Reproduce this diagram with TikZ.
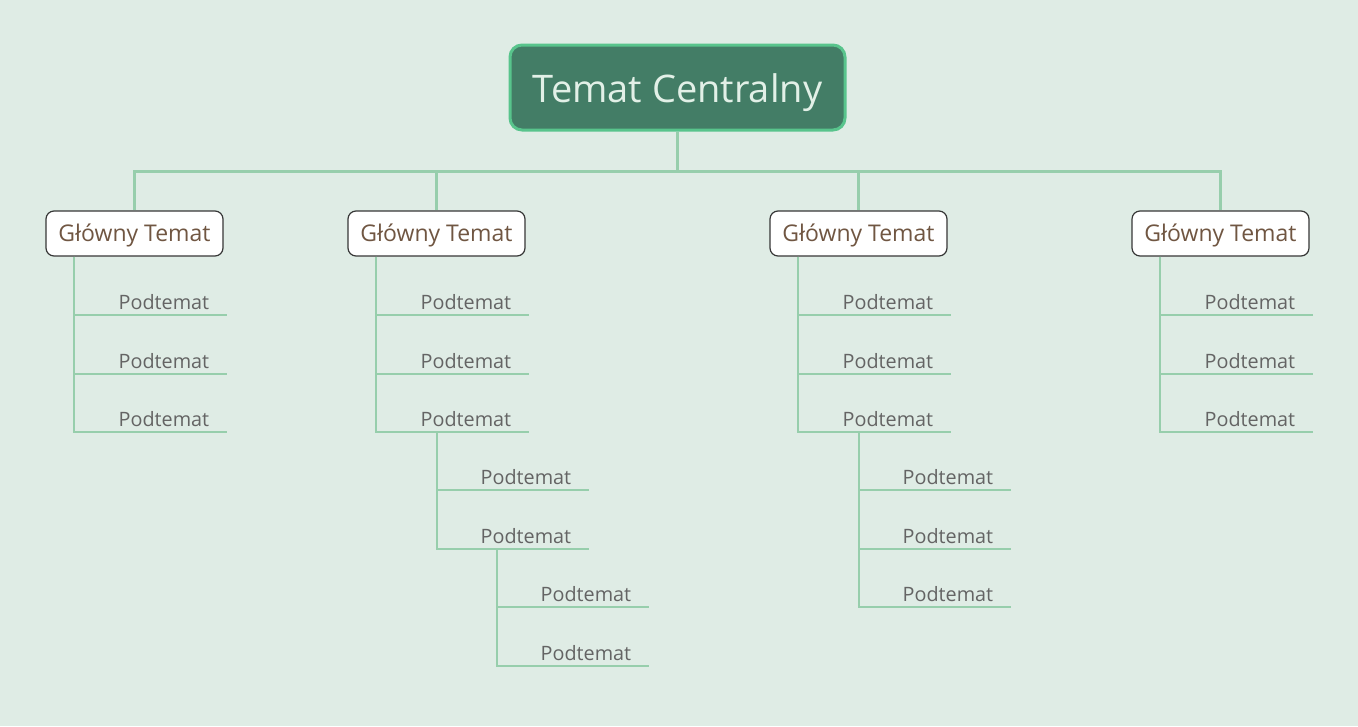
\documentclass[tikz,border=0pt]{standalone}
\usepackage{fontspec}
\setmainfont{Open Sans}
\definecolor{bgmint}{RGB}{223,236,229}
\definecolor{rootfill}{RGB}{67,125,102}
\definecolor{rootedge}{RGB}{88,196,140}
\definecolor{roottext}{RGB}{226,240,231}
\definecolor{branchline}{RGB}{151,206,172}
\definecolor{topicedge}{RGB}{55,55,55}
\definecolor{topictext}{RGB}{112,86,66}
\definecolor{subtext}{RGB}{100,100,100}
\tikzset{
  root/.style={draw=rootedge, line width=3pt, fill=rootfill, rounded corners=12pt,
    minimum width=335pt, minimum height=85pt, text=roottext,
    text height=35pt, text depth=6pt,
    font=\fontsize{38}{44}\selectfont},
  topic/.style={draw=topicedge, line width=1.2pt, fill=white, rounded corners=8pt,
    minimum width=177pt, minimum height=45pt, text=topictext,
    text height=19pt, text depth=4pt,
    font=\fontsize{23}{27}\selectfont},
  sub/.style={anchor=south west, inner sep=0pt, inner xsep=18pt, inner ysep=5pt,
    text width=116pt, align=right, text height=14pt, text depth=0pt,
    text=subtext, font=\fontsize{19.8}{23}\selectfont},
  trunk/.style={draw=branchline, line width=3pt},
  twig/.style={draw=branchline, line width=2pt}
}
\begin{document}
\begin{tikzpicture}[x=1pt, y=-1pt]
    \fill[bgmint] (0,0) rectangle (1358,726);
    \useasboundingbox (0,0) rectangle (1358,726);

    \node[root] (root) at (677.5,87.5) {Temat Centralny};

    % main topics with their first subtopics
    \foreach[count=\i] \x in {134.5,436.5,858.5,1220.5}
    {
    \node[topic] (b\i) at (\x,233.5) {Główny Temat};
    \draw[trunk] (root.south) -- ++(0,40) -| (b\i.north);
    \foreach[count=\j] \y in {315,374,432}
        {
        \node[sub] (b\i-\j) at ({\x-59.5},\y) {Podtemat};
        \draw[twig] ([xshift=29pt]b\i.south west) |- (b\i-\j.south east);
        }
    }

    % deeper levels
    \node[sub] (b2-3a) at (437,490) {Podtemat};
    \node[sub] (b2-3b) at (437,549) {Podtemat};
    \draw[twig] ([xshift=60pt]b2-3.south west) |- (b2-3a.south east);
    \draw[twig] ([xshift=60pt]b2-3.south west) |- (b2-3b.south east);
    \node[sub] (b2-3ba) at (497,607) {Podtemat};
    \node[sub] (b2-3bb) at (497,666) {Podtemat};
    \draw[twig] ([xshift=60pt]b2-3b.south west) |- (b2-3ba.south east);
    \draw[twig] ([xshift=60pt]b2-3b.south west) |- (b2-3bb.south east);

    \foreach[count=\j] \y in {490,549,607}
    {
    \node[sub] (b3-3\j) at (859,\y) {Podtemat};
    \draw[twig] ([xshift=60pt]b3-3.south west) |- (b3-3\j.south east);
    }
\end{tikzpicture}
\end{document}
